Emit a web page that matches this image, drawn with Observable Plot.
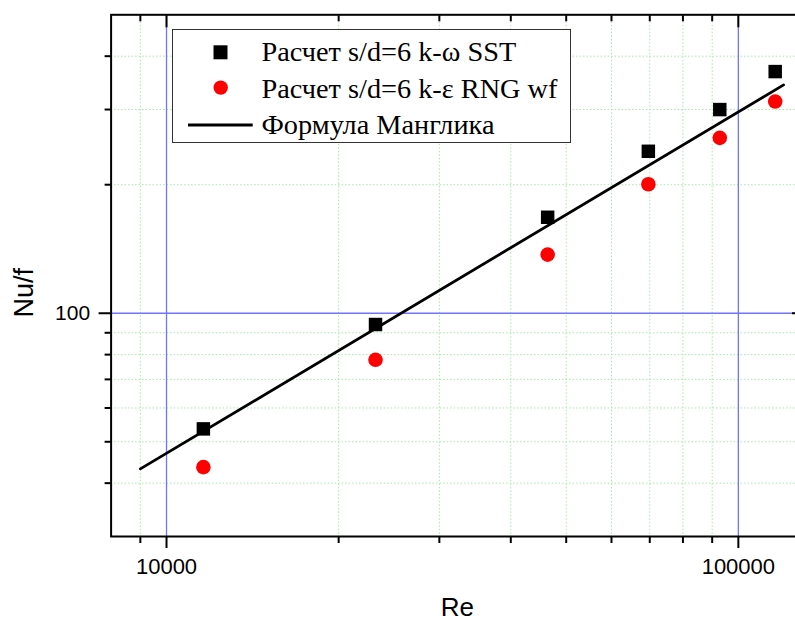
<!DOCTYPE html>
<html><head><meta charset="utf-8">
<script src="https://cdn.jsdelivr.net/npm/d3@7"></script>
<script src="https://cdn.jsdelivr.net/npm/@observablehq/plot@0.6"></script>
<style>
html,body{margin:0;padding:0;background:#fff;overflow:hidden;}
#wrap{position:relative;width:795px;height:622px;overflow:hidden;}
#legend{position:absolute;left:172px;top:29px;}
</style>
</head><body>
<div id="wrap"></div>
<script>
// Data
const re = [11600, 23200, 46400, 69600, 92800, 116000];
const nuSST = [53.6, 94.1, 167.8, 239.5, 299.9, 368.1];
const nuRNG = [43.6, 77.8, 137.2, 200.5, 257.5, 313.2];
const formulaRe = [9000, 120000];
const formulaNu = [43.2, 342.7];
const seriesNames = ["Расчет s/d=6 k-ω SST", "Расчет s/d=6 k-ε RNG wf", "Формула Манглика"];
const xMajor = [10000, 100000];
const xMinor = [9000, 20000, 30000, 40000, 50000, 60000, 70000, 80000, 90000];
const yMajor = [100];
const yMinor = [40, 50, 60, 70, 80, 90, 200, 300, 400];
const xLabel = "Re";
const yLabel = "Nu/f";

const sst = re.map((r, i) => ({re: r, nu: nuSST[i]}));
const rng = re.map((r, i) => ({re: r, nu: nuRNG[i]}));
const formula = formulaRe.map((r, i) => ({re: r, nu: formulaNu[i]}));

const minorGrid = {stroke: "#a6e8a6", strokeDasharray: "1.5,2", strokeWidth: 1};
const majorGrid = {stroke: "#7373ff", strokeWidth: 1.3};

const plot = Plot.plot({
  width: 795, height: 622,
  marginLeft: 110.6, marginRight: -8, marginTop: 14.3, marginBottom: 86,
  x: {type: "log", domain: [8000, 130000], axis: null},
  y: {type: "log", domain: [30, 500], axis: null},
  style: {fontFamily: "'Liberation Sans', Arial, sans-serif", background: "white", overflow: "hidden", color: "black"},
  marks: [
    Plot.ruleX(xMinor, minorGrid),
    Plot.ruleY(yMinor, minorGrid),
    Plot.ruleX(xMajor, majorGrid),
    Plot.ruleY(yMajor, majorGrid),
    Plot.line(formula, {x: "re", y: "nu", stroke: "black", strokeWidth: 2.8}),
    Plot.dot(rng, {x: "re", y: "nu", r: 7.3, fill: "#ff0000", symbol: "circle"}),
    Plot.dot(sst, {x: "re", y: "nu", r: 7.6, fill: "black", symbol: "square"}),
    Plot.frame({stroke: "black", strokeWidth: 2}),
    // bottom axis
    Plot.axisX({anchor: "bottom", ticks: xMajor, tickSize: 12, tickPadding: 10, tickFormat: d => String(d), fontSize: 22, strokeWidth: 2, label: null}),
    Plot.axisX({anchor: "bottom", ticks: xMinor, tickSize: 7, fill: "none", strokeWidth: 2, label: null}),
    // top axis (inward)
    Plot.axisX({anchor: "top", ticks: xMajor, tickSize: -12, fill: "none", strokeWidth: 2, label: null}),
    Plot.axisX({anchor: "top", ticks: xMinor, tickSize: -6, fill: "none", strokeWidth: 2, label: null}),
    // left axis
    Plot.axisY({anchor: "left", ticks: yMajor, tickSize: 12, tickPadding: 9, tickFormat: d => String(d), fontSize: 21, strokeWidth: 2, label: null}),
    Plot.axisY({anchor: "left", ticks: yMinor, tickSize: 6, fill: "none", strokeWidth: 2, label: null}),
    // right axis (inward)
    Plot.axisY({anchor: "right", ticks: yMajor, tickSize: -12, fill: "none", strokeWidth: 2, label: null}),
    Plot.axisY({anchor: "right", ticks: yMinor, tickSize: -6, fill: "none", strokeWidth: 2, label: null}),
    // axis titles
    Plot.text([xLabel], {frameAnchor: "bottom", dy: 79.5, lineAnchor: "bottom", textAnchor: "middle", fontSize: 26}),
    Plot.text([yLabel], {frameAnchor: "left", dx: -86.9, dy: 17, rotate: -90, textAnchor: "middle", lineAnchor: "middle", fontSize: 27})
  ]
});
const wrap = document.getElementById("wrap");
wrap.appendChild(plot);

// Legend overlay
const ns = "http://www.w3.org/2000/svg";
const lg = document.createElementNS(ns, "svg");
lg.setAttribute("id", "legend");
lg.setAttribute("width", 400);
lg.setAttribute("height", 115);
const mk = (tag, attrs) => { const e = document.createElementNS(ns, tag); for (const k in attrs) e.setAttribute(k, attrs[k]); lg.appendChild(e); return e; };
mk("rect", {x: 0.5, y: 0.5, width: 398, height: 113, fill: "white", stroke: "#333", "stroke-width": 1});
mk("rect", {x: 41.5, y: 16.3, width: 14, height: 14, fill: "black"});
mk("circle", {cx: 48.7, cy: 58.6, r: 7.2, fill: "#ff0000"});
mk("line", {x1: 16, x2: 80.7, y1: 96, y2: 96, stroke: "black", "stroke-width": 2.8});
const baselines = [32, 68.7, 105];
seriesNames.forEach((s, i) => {
  const t = mk("text", {x: 89.5, y: baselines[i], "font-family": "'Liberation Serif','Times New Roman',serif", "font-size": 28.3, fill: "black"});
  t.textContent = s;
});
wrap.appendChild(lg);
</script>
</body></html>
